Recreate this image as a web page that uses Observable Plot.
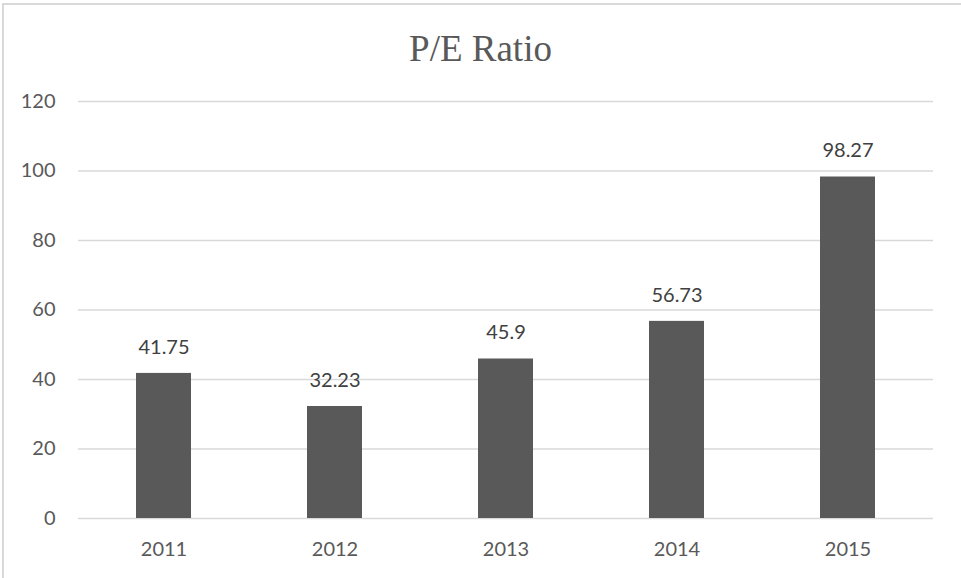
<!DOCTYPE html>
<html>
<head>
<meta charset="utf-8">
<script src="https://cdn.jsdelivr.net/npm/d3@7"></script>
<script src="https://cdn.jsdelivr.net/npm/@observablehq/plot@0.6"></script>
<style>
  html, body { margin: 0; padding: 0; background: #fff; overflow: hidden; }
  #wrap { position: relative; width: 961px; height: 578px; overflow: hidden; background: #fff; }
  #frame { position: absolute; left: 2px; top: 3px; width: 1200px; height: 1200px; border: 2px solid #d9d9d9; box-sizing: border-box; }
  #title { position: absolute; left: 0; top: 30px; width: 961px; text-align: center; font-family: "Liberation Serif", "Times New Roman", serif; font-size: 37px; line-height: 37px; color: #595959; }
  #chart { position: absolute; left: 0; top: 80px; }
</style>
</head>
<body>
<div id="wrap">
  <div id="frame"></div>
  <div id="title">P/E Ratio</div>
  <div id="chart"></div>
</div>
<script>
const years = ["2011", "2012", "2013", "2014", "2015"];
const ratios = [41.75, 32.23, 45.9, 56.73, 98.27];
const valueLabels = ["41.75", "32.23", "45.9", "56.73", "98.27"];
const yTicks = [0, 20, 40, 60, 80, 100, 120];

const data = years.map((y, i) => ({year: y, value: ratios[i], label: valueLabels[i]}));

const chart = Plot.plot({
  width: 961,
  height: 498,
  marginTop: 21,
  marginBottom: 60,
  marginLeft: 78,
  marginRight: 28,
  style: {fontFamily: "Lato, 'Open Sans', sans-serif", fontSize: "20px", color: "#595959", background: "transparent"},
  x: {domain: years, paddingInner: 0.68, paddingOuter: 0.34, label: null, tickSize: 0, tickPadding: 23},
  y: {domain: [0, 120], ticks: yTicks, label: null, tickSize: 0, tickPadding: 23},
  marks: [
    Plot.ruleY(yTicks, {stroke: "#d9d9d9", strokeWidth: 1.5}),
    Plot.barY(data, {x: "year", y: "value", fill: "#595959"}),
    Plot.text(data, {x: "year", y: "value", text: "label", dy: -26, fill: "#404040", fontSize: 20})
  ]
});
document.getElementById("chart").appendChild(chart);
</script>
</body>
</html>
